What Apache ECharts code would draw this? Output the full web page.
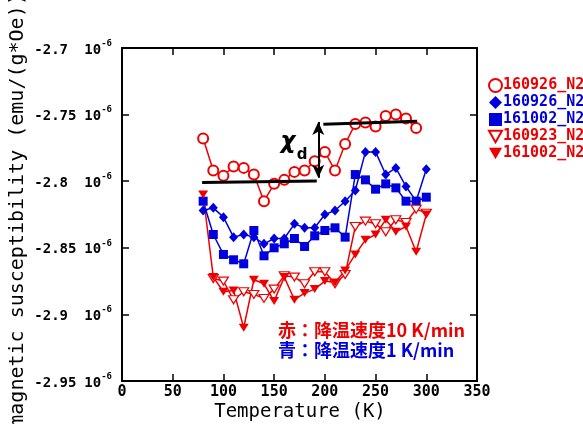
<!DOCTYPE html>
<html>
<head>
<meta charset="utf-8">
<script src="https://cdn.jsdelivr.net/npm/echarts@6/dist/echarts.min.js"></script>
<style>
  html, body { margin: 0; padding: 0; background: #fff; }
  #chart { width: 583px; height: 424px; }
</style>
</head>
<body>
<div id="chart"></div>
<script>
// Temperatures (K) for each run
const tempCircle = [80, 90, 100, 110, 120, 130, 140, 150, 160, 170, 180, 190, 200, 210, 220, 230, 240, 250, 260, 270, 280, 290];
const tempBlue = [80, 90, 100, 110, 120, 130, 140, 150, 160, 170, 180, 190, 200, 210, 220, 230, 240, 250, 260, 270, 280, 290, 300];
const tempOpenTri = [90, 100, 110, 120, 130, 140, 150, 160, 170, 180, 190, 200, 210, 220, 230, 240, 250, 260, 270, 280, 290, 300];
const tempFilledTri = [80, 90, 100, 110, 120, 130, 140, 150, 160, 170, 180, 190, 200, 210, 220, 230, 240, 250, 260, 270, 280, 290, 300];

// Susceptibility in units of 1e-6 emu/(g*Oe)
const chi160926Red = [-2.768, -2.792, -2.796, -2.789, -2.790, -2.795, -2.815, -2.802, -2.799, -2.793, -2.792,
  -2.785, -2.778, -2.792, -2.772, -2.757, -2.756, -2.759, -2.751, -2.750, -2.753, -2.760];
const chi160926Blue = [-2.822, -2.820, -2.827, -2.842, -2.840, -2.842, -2.847, -2.843, -2.843, -2.832, -2.835,
  -2.835, -2.825, -2.822, -2.815, -2.807, -2.778, -2.778, -2.795, -2.790, -2.804, -2.815, -2.791];
const chi161002Blue = [-2.815, -2.840, -2.855, -2.859, -2.862, -2.837, -2.856, -2.850, -2.847, -2.843, -2.849,
  -2.841, -2.837, -2.835, -2.842, -2.795, -2.799, -2.806, -2.802, -2.805, -2.815, -2.815, -2.812];
const chi160923Red = [-2.873, -2.875, -2.889, -2.883, -2.885, -2.888, -2.881, -2.871, -2.872, -2.877, -2.868,
  -2.868, -2.877, -2.870, -2.834, -2.830, -2.832, -2.838, -2.829, -2.831, -2.821, -2.824];
const chi161002Red = [-2.810, -2.872, -2.883, -2.882, -2.910, -2.874, -2.877, -2.890, -2.872, -2.889, -2.884,
  -2.881, -2.875, -2.876, -2.867, -2.855, -2.844, -2.840, -2.829, -2.838, -2.834, -2.853, -2.825];

// Axis ticks
const xTicks = [0, 50, 100, 150, 200, 250, 300, 350];
const yTickLabels = ['-2.95', '-2.9', '-2.85', '-2.8', '-2.75', '-2.7'];

const RED = '#ee0000';
const BLUE = '#0000dd';
const TRI_DOWN = 'path://M0,0L10,0L5,8.66Z';
const CJK_FONT = '"Noto Sans CJK JP", "DejaVu Sans", sans-serif';
const MONO_FONT = '"DejaVu Sans Mono", monospace';

function pairs(xs, ys) { return xs.map((x, i) => [x, ys[i]]); }

const chart = echarts.init(document.getElementById('chart'), null, { renderer: 'canvas' });

const axisCommon = {
  axisLine: { show: true, onZero: false, lineStyle: { color: '#000', width: 2 } },
  axisTick: { show: true, inside: true, length: 7, lineStyle: { color: '#000', width: 1.5 } },
  splitLine: { show: false }
};

const option = {
  animation: false,
  backgroundColor: '#fff',
  grid: { left: 122, right: 106, top: 48, bottom: 43 },
  xAxis: [
    Object.assign({
      type: 'value', min: 0, max: 350, interval: 50, position: 'bottom',
      axisLabel: {
        margin: 4, color: '#000', fontFamily: MONO_FONT, fontWeight: 'bold', fontSize: 15,
        formatter: v => (xTicks.includes(v) ? String(v) : '')
      }
    }, axisCommon),
    Object.assign({
      type: 'value', min: 0, max: 350, interval: 50, position: 'top', axisLabel: { show: false }
    }, axisCommon)
  ],
  yAxis: [
    Object.assign({
      type: 'value', min: -2.95, max: -2.7, interval: 0.05, position: 'left',
      axisLabel: {
        margin: 10, color: '#000',
        formatter: v => {
          const idx = Math.round((v + 2.95) / 0.05);
          return '{n|' + yTickLabels[idx] + '}{t|10}{e|-6}';
        },
        rich: {
          n: { fontFamily: MONO_FONT, fontWeight: 'bold', fontSize: 14, lineHeight: 18, width: 50, align: 'left', verticalAlign: 'bottom', color: '#000' },
          t: { fontFamily: MONO_FONT, fontWeight: 'bold', fontSize: 14, lineHeight: 18, verticalAlign: 'bottom', color: '#000' },
          e: { fontFamily: MONO_FONT, fontWeight: 'bold', fontSize: 9, lineHeight: 18, verticalAlign: 'top', color: '#000' }
        }
      }
    }, axisCommon),
    Object.assign({
      type: 'value', min: -2.95, max: -2.7, interval: 0.05, position: 'right', axisLabel: { show: false }
    }, axisCommon)
  ],
  legend: {
    orient: 'vertical', left: 483, top: 73, itemGap: 2, itemWidth: 13, itemHeight: 13,
    textStyle: { fontFamily: MONO_FONT, fontWeight: 'bold', fontSize: 15, padding: [0, 0, 0, -4] },
    data: [
      { name: '160926_N2 ', icon: 'circle', textStyle: { color: RED }, itemStyle: { color: '#fff', borderColor: RED, borderWidth: 2 } },
      { name: '160926_N2', icon: 'diamond', textStyle: { color: BLUE } },
      { name: '161002_N2', icon: 'rect', textStyle: { color: BLUE } },
      { name: '160923_N2', icon: TRI_DOWN, textStyle: { color: RED }, itemStyle: { color: '#fff', borderColor: RED, borderWidth: 2 } },
      { name: '161002_N2 ', icon: TRI_DOWN, textStyle: { color: RED } }
    ]
  },
  series: [
    {
      name: '160926_N2 ', type: 'line', data: pairs(tempCircle, chi160926Red),
      symbol: 'emptyCircle', symbolSize: 10,
      lineStyle: { color: RED, width: 1.5 },
      itemStyle: { color: RED, borderColor: RED, borderWidth: 1.2 },
      markLine: {
        silent: true, animation: false, label: { show: false },
        symbol: ['none', 'none'],
        lineStyle: { color: '#000', width: 3, type: 'solid' },
        emphasis: { disabled: true },
        data: [
          [{ coord: [79, -2.8010] }, { coord: [192, -2.7998] }],
          [{ coord: [198.5, -2.7573] }, { coord: [291, -2.7549] }],
          [
            { coord: [193.5, -2.7975], symbol: 'arrow', symbolSize: [9, 13], lineStyle: { width: 2 } },
            { coord: [193.5, -2.7555], symbol: 'arrow', symbolSize: [9, 13], lineStyle: { width: 2 } }
          ]
        ]
      }
    },
    {
      name: '160926_N2', type: 'line', data: pairs(tempBlue, chi160926Blue),
      symbol: 'diamond', symbolSize: [9, 10],
      lineStyle: { color: BLUE, width: 1.5 },
      itemStyle: { color: BLUE }
    },
    {
      name: '161002_N2', type: 'line', data: pairs(tempBlue, chi161002Blue),
      symbol: 'rect', symbolSize: 9,
      lineStyle: { color: BLUE, width: 1.5 },
      itemStyle: { color: BLUE }
    },
    {
      name: '160923_N2', type: 'line', data: pairs(tempOpenTri, chi160923Red),
      symbol: TRI_DOWN, symbolSize: [10, 8],
      lineStyle: { color: RED, width: 1.5 },
      itemStyle: { color: '#fff', borderColor: RED, borderWidth: 1.2 }
    },
    {
      name: '161002_N2 ', type: 'line', data: pairs(tempFilledTri, chi161002Red),
      symbol: TRI_DOWN, symbolSize: [10, 8],
      lineStyle: { color: RED, width: 1.5 },
      itemStyle: { color: RED }
    }
  ],
  graphic: [
    {
      type: 'text', x: 18, y: 210, rotation: Math.PI / 2,
      style: {
        text: 'magnetic susceptibility (emu/(g*Oe))', fill: '#000',
        font: '20px ' + MONO_FONT, textAlign: 'center', textVerticalAlign: 'middle'
      }
    },
    {
      type: 'text', x: 300, y: 412,
      style: {
        text: 'Temperature (K)', fill: '#000',
        font: '19px ' + MONO_FONT, textAlign: 'center', textVerticalAlign: 'middle'
      }
    },
    {
      type: 'text', x: 288, y: 142,
      style: {
        text: 'χ', fill: '#000', font: 'italic bold 23px "DejaVu Sans", sans-serif',
        textAlign: 'center', textVerticalAlign: 'middle'
      }
    },
    {
      type: 'text', x: 302, y: 155,
      style: {
        text: 'd', fill: '#000', font: 'bold 15px "DejaVu Sans", sans-serif',
        textAlign: 'center', textVerticalAlign: 'middle'
      }
    },
    {
      type: 'text', x: 278, y: 330,
      style: {
        text: '赤：降温速度10 K/min', fill: RED,
        font: 'bold 18px ' + CJK_FONT, textAlign: 'left', textVerticalAlign: 'middle'
      }
    },
    {
      type: 'text', x: 278, y: 350,
      style: {
        text: '青：降温速度1 K/min', fill: BLUE,
        font: 'bold 18px ' + CJK_FONT, textAlign: 'left', textVerticalAlign: 'middle'
      }
    }
  ]
};

chart.setOption(option);
</script>
</body>
</html>
